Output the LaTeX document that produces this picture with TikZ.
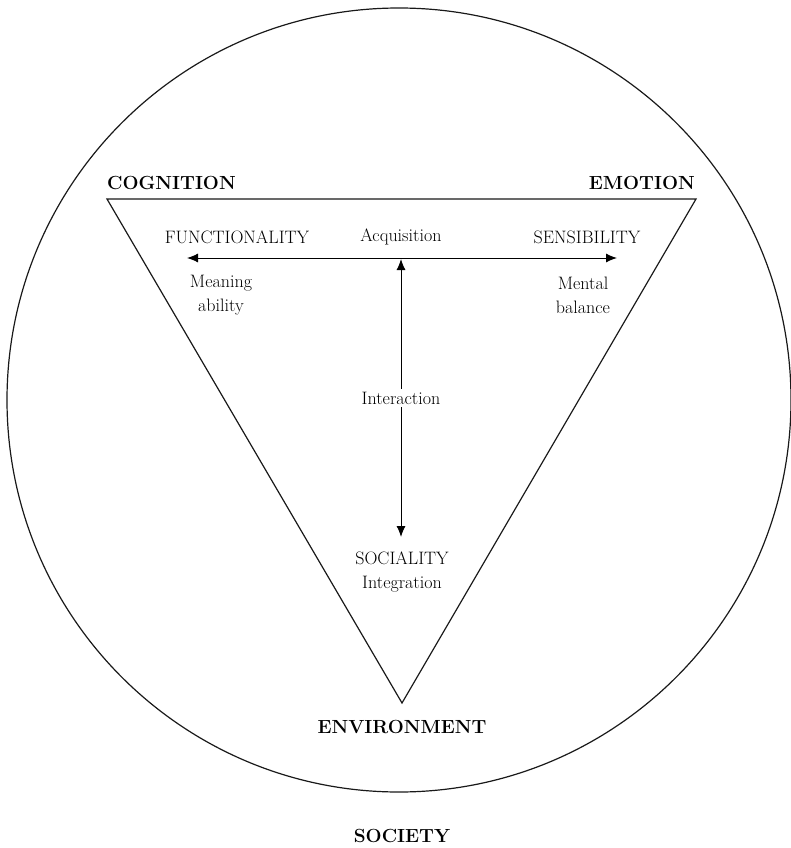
\documentclass[tikz,border=0pt]{standalone}
\usetikzlibrary{arrows.meta, positioning}

\begin{document}
\begin{tikzpicture}[
  x=1pt, y=-1pt,
  outline/.style={draw=black!90, line width=1.2pt},
  pole/.style={font=\fontsize{19}{22}\selectfont\bfseries, text=black, inner sep=1pt},
  facet/.style={font=\fontsize{18}{24}\selectfont, text=black, align=center, inner sep=1pt},
  link/.style={{Latex[length=11pt, width=9pt]}-{Latex[length=11pt, width=9pt]}, draw=black, line width=1pt},
]
\useasboundingbox (0,0) rectangle (790,848);

% --- society circle and triangle ---
\node[outline, circle, minimum size=784pt, inner sep=0pt] (society) at (399,400) {};
\coordinate (tl) at (107,199);
\coordinate (tr) at (696,199);
\coordinate (bt) at (402,703);
\draw[outline, line join=miter] (tl) -- (tr) -- (bt) -- cycle;

% --- corner labels ---
\node[pole, anchor=west] (cog) at (106,183) {COGNITION};
\node[pole, anchor=east] (emo) at (696,183) {EMOTION};
\node[pole] (env) at (402,727) {ENVIRONMENT};
\node[pole] (soc) at (402,836) {SOCIETY};

% --- inner labels ---
\node[facet] (func) at (237,237) {FUNCTIONALITY};
\node[facet] (acq)  at (401,237) {Acquisition};
\node[facet] (sens) at (587,237) {SENSIBILITY};
\node[facet] (mean) at (221,295) {Meaning\\ability};
\node[facet] (ment) at (583,295) {Mental\\balance};
\node[facet] (sociality) at (402,572) {SOCIALITY\\Integration};

% --- arrows ---
\coordinate (hl) at (187,258);
\coordinate (hr) at (617,258);
\coordinate (vt) at (401,259);
\coordinate (vb) at (401,537);
\draw[link] (hl) -- (hr);
\draw[link] (vt) -- node[facet, fill=white, inner sep=3pt] (inter) {Interaction} (vb);
\end{tikzpicture}
\end{document}
